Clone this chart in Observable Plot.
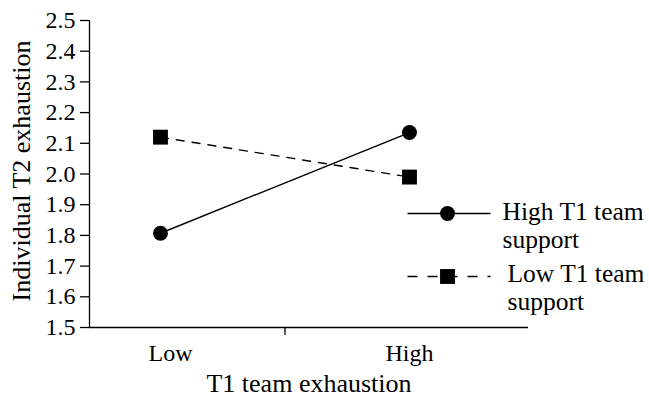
<!DOCTYPE html>
<html>
<head>
<meta charset="utf-8">
<script src="https://cdn.jsdelivr.net/npm/d3@7"></script>
<script src="https://cdn.jsdelivr.net/npm/@observablehq/plot@0.6"></script>
<style>
  html, body { margin: 0; padding: 0; background: #fff; }
  #chart { width: 649px; height: 397px; }
  #chart svg, #chart svg text { font-family: "Liberation Serif", "Times New Roman", serif !important; }
</style>
</head>
<body>
<div id="chart"></div>
<script>
// ---- data ----
const categories = ["Low", "High"];
const highSupport = [1.807, 2.135];
const lowSupport = [2.12, 1.99];
const seriesNames = ["High T1 team\nsupport", "Low T1 team\nsupport"];
const yTicks = [1.5, 1.6, 1.7, 1.8, 1.9, 2.0, 2.1, 2.2, 2.3, 2.4, 2.5];
const xTitle = "T1 team exhaustion";
const yTitle = "Individual T2 exhaustion";

// ---- layout ----
const W = 649, H = 397;
const mL = 89, mR = 121, mT = 20, mB = 70;
const xDomain = [0.715, 2.478];
const yDomain = [1.5, 2.5];
// pixel -> data helpers (used for legend placement only)
const px = d3.scaleLinear([mL, W - mR], xDomain);
const py = d3.scaleLinear([H - mB, mT], yDomain);

const highData = categories.map((c, i) => ({ cat: c, x: i + 1, y: highSupport[i] }));
const lowData = categories.map((c, i) => ({ cat: c, x: i + 1, y: lowSupport[i] }));

const font = "Liberation Serif";

const legHigh = [{ name: seriesNames[0], ly: 213, ty: 199, tx: 502 }];
const legLow = [{ name: seriesNames[1], ly: 276, ty: 261, tx: 507 }];

const plot = Plot.plot({
  width: W, height: H,
  marginLeft: mL, marginRight: mR, marginTop: mT, marginBottom: mB,
  x: { domain: xDomain, axis: null },
  y: { domain: yDomain, axis: null },
  style: { fontFamily: font, fontSize: "24px", color: "#000", background: "#fff", overflow: "visible" },
  marks: [
    // axes
    Plot.ruleX([xDomain[0]], { stroke: "#000", strokeWidth: 1.3 }),
    Plot.ruleY([yDomain[0]], { stroke: "#000", strokeWidth: 1.3 }),
    Plot.axisY(yTicks, { tickSize: 9, tickPadding: 5, tickFormat: d => d.toFixed(1), label: null, fontSize: 24, strokeWidth: 1.3 }),
    Plot.axisX([1.5], { tickSize: 8, tickFormat: () => "", label: null, strokeWidth: 1.3 }),
    Plot.text([categories[0]], { x: 1, dx: 10, frameAnchor: "bottom", dy: 26, fontSize: 24, lineAnchor: "middle", textAnchor: "middle" }),
    Plot.text([categories[1]], { x: 2, frameAnchor: "bottom", dy: 26, fontSize: 24, lineAnchor: "middle", textAnchor: "middle" }),
    Plot.text([xTitle], { frameAnchor: "bottom", dy: 56, fontSize: 26, lineAnchor: "middle", textAnchor: "middle" }),
    Plot.text([yTitle], { frameAnchor: "left", dx: -68, dy: -3, rotate: -90, fontSize: 26, lineAnchor: "middle", textAnchor: "middle" }),
    // series
    Plot.line(highData, { x: "x", y: "y", stroke: "#000", strokeWidth: 1.4 }),
    Plot.line(lowData, { x: "x", y: "y", stroke: "#000", strokeWidth: 1.4, strokeDasharray: "8,8" }),
    Plot.dot(highData, { x: "x", y: "y", symbol: "circle", r: 7.5, fill: "#000", stroke: "none" }),
    Plot.dot(lowData, { x: "x", y: "y", symbol: "square", r: 8.4, fill: "#000", stroke: "none" }),
    // legend
    Plot.link(legHigh, { x1: px(407), x2: px(490), y1: d => py(d.ly), y2: d => py(d.ly), stroke: "#000", strokeWidth: 1.4 }),
    Plot.link(legLow, { x1: px(407), x2: px(490), y1: d => py(d.ly), y2: d => py(d.ly), stroke: "#000", strokeWidth: 1.4, strokeDasharray: "10,10" }),
    Plot.dot(legHigh, { x: px(447), y: d => py(d.ly), symbol: "circle", r: 7.5, fill: "#000", stroke: "none" }),
    Plot.dot(legLow, { x: px(447), y: d => py(d.ly), symbol: "square", r: 8.4, fill: "#000", stroke: "none" }),
    Plot.text(legHigh.concat(legLow), { x: d => px(d.tx), y: d => py(d.ty), text: "name", textAnchor: "start", lineAnchor: "top", fontSize: 25.5, lineHeight: 1.12 })
  ]
});
document.getElementById("chart").appendChild(plot);
</script>
</body>
</html>
